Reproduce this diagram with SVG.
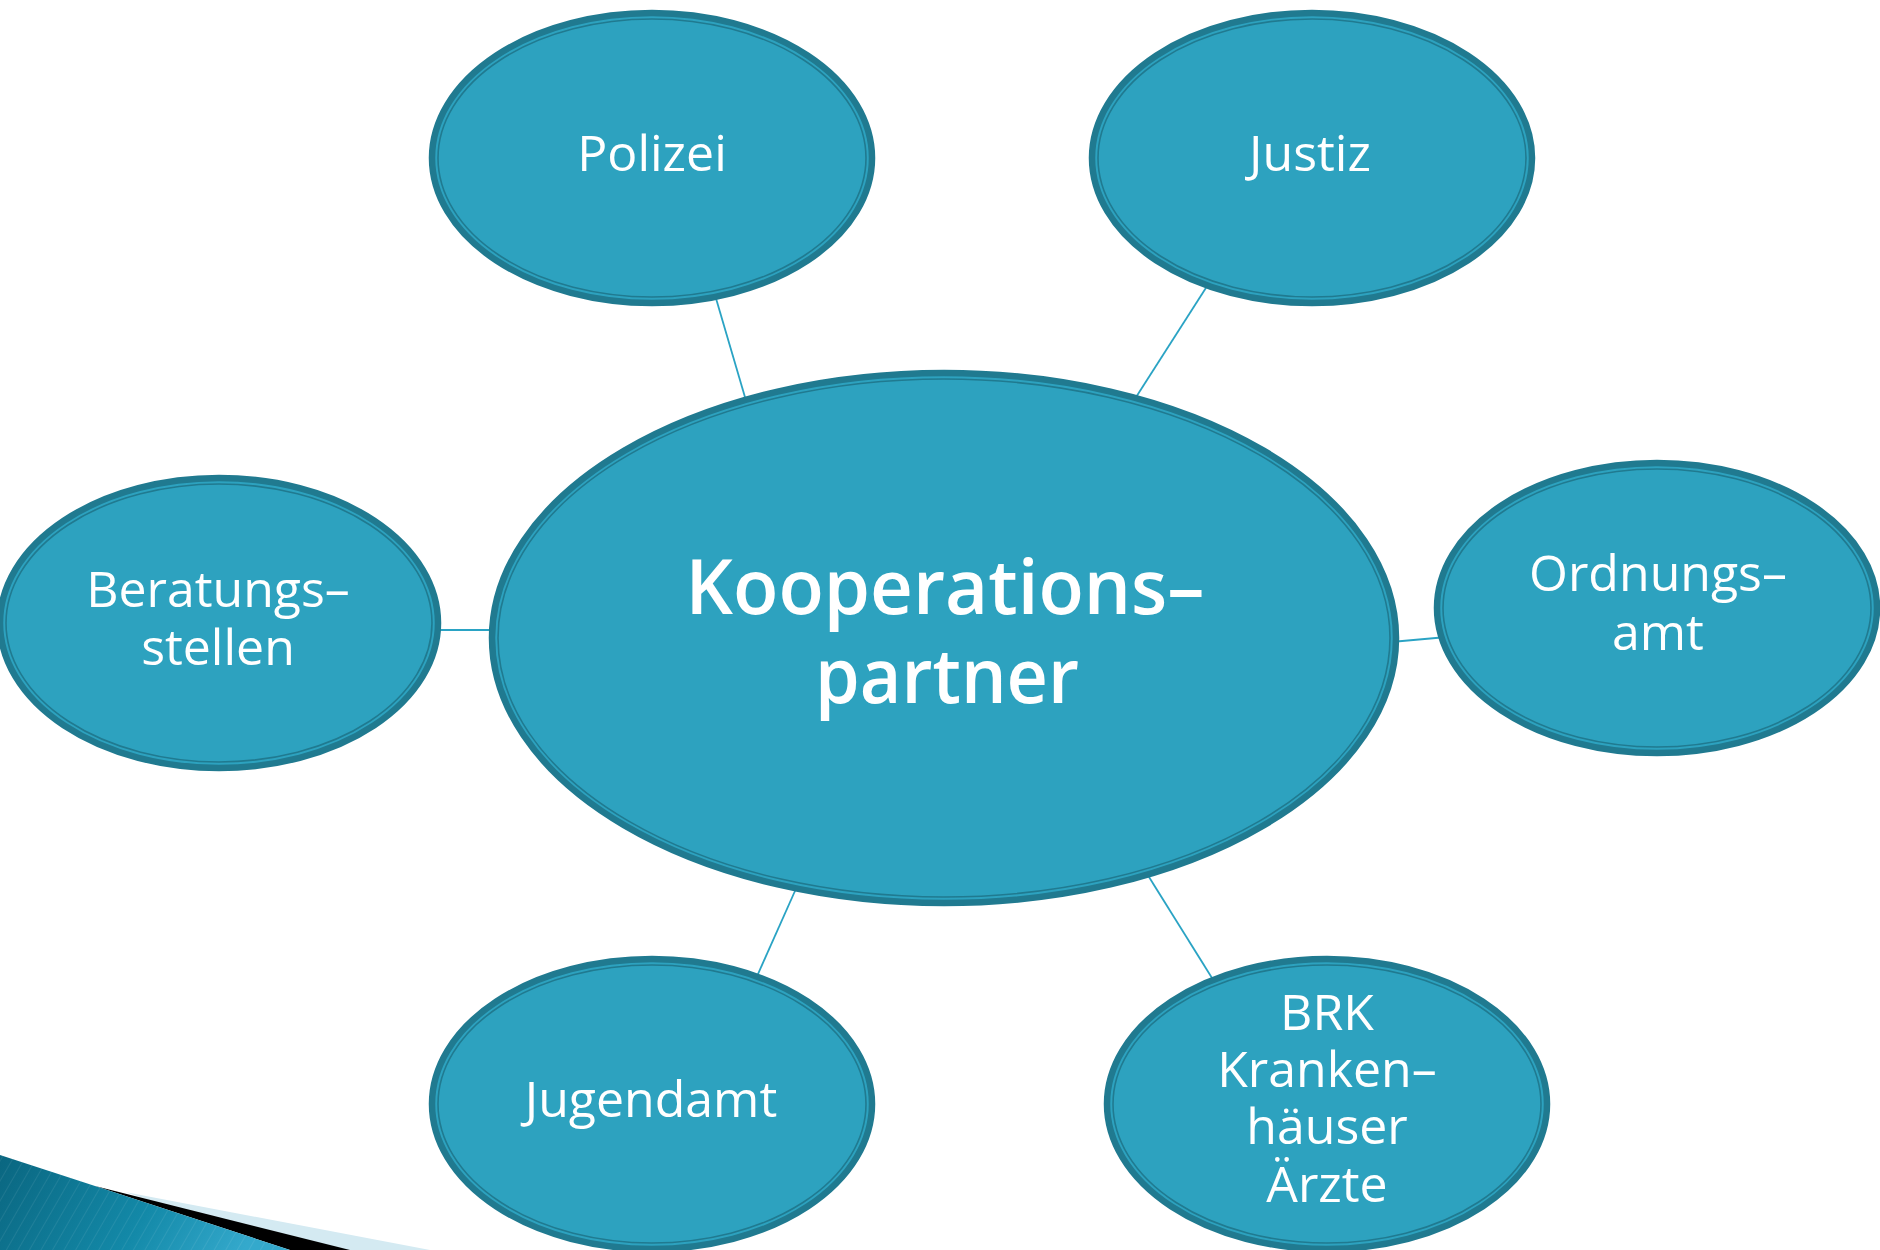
<svg xmlns="http://www.w3.org/2000/svg" width="1880" height="1250" viewBox="0 0 1880 1250">
<style>
.band{fill:#2da2bf;stroke:#207a90;stroke-width:6.5}
.inner{fill:none;stroke:#207a90;stroke-width:1.6}
.lbl{font-family:"Open Sans","Liberation Sans",sans-serif;font-size:50px;fill:#ffffff;text-anchor:middle}
.big{font-family:"Open Sans","Liberation Sans",sans-serif;font-size:76px;font-weight:600;fill:#ffffff;text-anchor:middle}
.conn{stroke:#2aa3c4;stroke-width:1.8;fill:none}
</style>
<defs>
<linearGradient id="tealg" x1="0" y1="0" x2="1" y2="0.2">
<stop offset="0" stop-color="#0a6680"/>
<stop offset="0.6" stop-color="#1389a8"/>
<stop offset="1" stop-color="#34a9cc"/>
</linearGradient>
<pattern id="stripes" width="10" height="10" patternUnits="userSpaceOnUse" patternTransform="rotate(30)">
<line x1="0" y1="0" x2="0" y2="10" stroke="#ffffff" stroke-opacity="0.08" stroke-width="2"/>
</pattern>
</defs>
<rect width="1880" height="1250" fill="#ffffff"/>
<g id="decoration">
<polygon points="125,1192 430,1250 300,1250" fill="#d4eaf2"/>
<polygon points="95,1186 350,1250 290,1250" fill="#000000"/>
<polygon points="0,1155 95,1186 290,1250 0,1250" fill="url(#tealg)"/>
<polygon points="0,1155 95,1186 290,1250 0,1250" fill="url(#stripes)"/>
</g>
<g id="connectors">
<line class="conn" x1="715" y1="295" x2="747" y2="404"/>
<line class="conn" x1="1211" y1="280" x2="1131" y2="405"/>
<line class="conn" x1="436" y1="630" x2="494" y2="630"/>
<line class="conn" x1="1391" y1="642" x2="1447" y2="637"/>
<line class="conn" x1="799" y1="882" x2="754" y2="983"/>
<line class="conn" x1="1144" y1="869" x2="1217" y2="986"/>
</g>
<g id="center">
<ellipse class="band" cx="944" cy="638" rx="452" ry="265"/>
<ellipse class="inner" cx="944" cy="638" rx="446" ry="259"/>
<text class="big"><tspan x="945" y="614" textLength="519" lengthAdjust="spacingAndGlyphs">Kooperations–</tspan><tspan x="947" y="703" textLength="264" lengthAdjust="spacingAndGlyphs">partner</tspan></text>
</g>
<g id="polizei">
<ellipse class="band" cx="652" cy="158" rx="220" ry="145"/>
<ellipse class="inner" cx="652" cy="158" rx="214" ry="139"/>
<text class="lbl" x="652" y="171">Polizei</text>
</g>
<g id="justiz">
<ellipse class="band" cx="1312" cy="158" rx="220" ry="145"/>
<ellipse class="inner" cx="1312" cy="158" rx="214" ry="139"/>
<text class="lbl" x="1310" y="171">Justiz</text>
</g>
<g id="beratungsstellen">
<ellipse class="band" cx="219" cy="623" rx="219" ry="145"/>
<ellipse class="inner" cx="219" cy="623" rx="213" ry="139"/>
<text class="lbl"><tspan x="218" y="607">Beratungs–</tspan><tspan x="218" y="665">stellen</tspan></text>
</g>
<g id="ordnungsamt">
<ellipse class="band" cx="1657" cy="608" rx="220" ry="145"/>
<ellipse class="inner" cx="1657" cy="608" rx="214" ry="139"/>
<text class="lbl"><tspan x="1658" y="591">Ordnungs–</tspan><tspan x="1658" y="650">amt</tspan></text>
</g>
<g id="jugendamt">
<ellipse class="band" cx="652" cy="1104" rx="220" ry="145"/>
<ellipse class="inner" cx="652" cy="1104" rx="214" ry="139"/>
<text class="lbl" x="651" y="1117">Jugendamt</text>
</g>
<g id="brk">
<ellipse class="band" cx="1327" cy="1104" rx="220" ry="145"/>
<ellipse class="inner" cx="1327" cy="1104" rx="214" ry="139"/>
<text class="lbl"><tspan x="1327" y="1030">BRK</tspan><tspan x="1327" y="1087">Kranken–</tspan><tspan x="1327" y="1144">häuser</tspan><tspan x="1327" y="1202">Ärzte</tspan></text>
</g>
</svg>
